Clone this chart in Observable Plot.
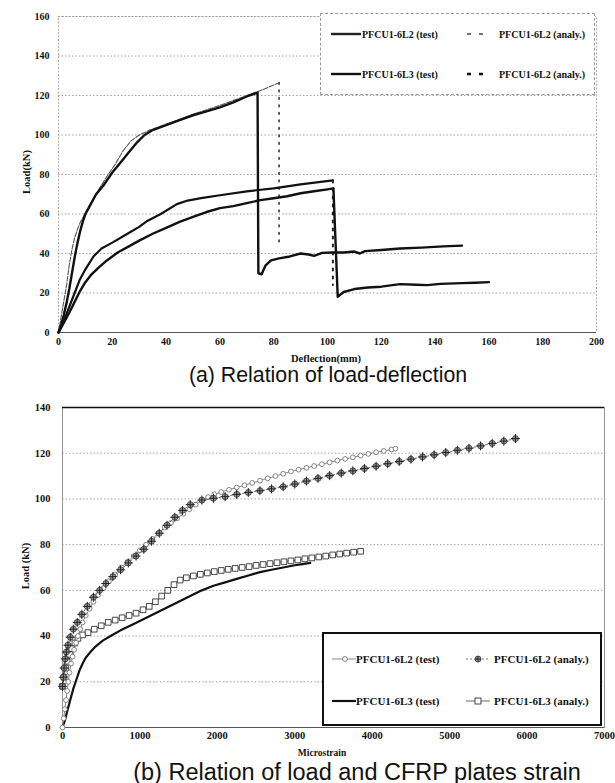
<!DOCTYPE html>
<html><head><meta charset="utf-8">
<script src="https://cdn.jsdelivr.net/npm/d3@7"></script>
<script src="https://cdn.jsdelivr.net/npm/@observablehq/plot@0.6"></script>
<style>
body{margin:0;background:#fff;}
#wrap{position:relative;width:615px;height:783px;overflow:hidden;background:#fff;}
.abs{position:absolute;}
.lab{font-family:"Liberation Serif",serif;font-weight:bold;color:#111;white-space:nowrap;transform:translate(-50%,-50%);}
.rot{transform:translate(-50%,-50%) rotate(-90deg);}
.cap{font-family:"Liberation Sans",Arial,sans-serif;color:#111;white-space:nowrap;transform:translate(-50%,-50%);}
.leg{position:absolute;box-sizing:border-box;background:#fff;}
.lt{position:absolute;font-family:"Liberation Serif",serif;font-weight:bold;white-space:nowrap;color:#111;transform:translateY(-50%);}
.ls{position:absolute;overflow:visible;}
</style></head>
<body>
<div id="wrap">
  <div id="pa" class="abs" style="left:0;top:0"></div>
  <div class="abs lab" style="left:326px;top:358px;font-size:10.5px">Deflection(mm)</div>
  <div class="abs lab rot" style="left:26px;top:172px;font-size:10.5px">Load(kN)</div>
  <div class="abs cap" style="left:328px;top:375px;font-size:21.3px">(a) Relation of load-deflection</div>

  <div class="leg" style="left:320px;top:13px;width:275px;height:82px;border:1px dashed #999;">
    <svg class="ls" style="left:10px;top:15px" width="30" height="10"><line x1="0" y1="5" x2="30" y2="5" stroke="#222" stroke-width="2.4"/></svg>
    <div class="lt" style="left:41px;top:20px;font-size:10px">PFCU1-6L2 (test)</div>
    <svg class="ls" style="left:146px;top:15px" width="18" height="10"><line x1="0" y1="5" x2="18" y2="5" stroke="#444" stroke-width="1.4" stroke-dasharray="4,8"/></svg>
    <div class="lt" style="left:178px;top:20px;font-size:10px">PFCU1-6L2 (analy.)</div>
    <svg class="ls" style="left:10px;top:55px" width="30" height="10"><line x1="0" y1="5" x2="30" y2="5" stroke="#111" stroke-width="2.4"/></svg>
    <div class="lt" style="left:41px;top:60px;font-size:10px">PFCU1-6L3 (test)</div>
    <svg class="ls" style="left:146px;top:55px" width="18" height="10"><line x1="0" y1="5" x2="18" y2="5" stroke="#111" stroke-width="2.4" stroke-dasharray="4,8"/></svg>
    <div class="lt" style="left:178px;top:60px;font-size:10px">PFCU1-6L2 (analy.)</div>
  </div>

  <div id="pb" class="abs" style="left:0;top:395px"></div>
  <div class="abs lab" style="left:322px;top:753px;font-size:9.5px">Microstrain</div>
  <div class="abs lab rot" style="left:25px;top:566px;font-size:10.5px">Load (kN)</div>
  <div class="abs cap" style="left:357px;top:772px;font-size:23.5px">(b) Relation of load and CFRP plates strain</div>

  <div class="leg" style="left:322px;top:632px;width:280px;height:94px;border:2px solid #111;">
    <svg class="ls" style="left:8px;top:20px" width="24" height="10"><line x1="0" y1="5" x2="24" y2="5" stroke="#888" stroke-width="1"/><circle cx="13" cy="5" r="2.4" fill="#fff" stroke="#777" stroke-width="0.9"/></svg>
    <div class="lt" style="left:32px;top:25px;font-size:11px">PFCU1-6L2 (test)</div>
    <svg class="ls" style="left:142px;top:20px" width="24" height="10"><line x1="0" y1="5" x2="24" y2="5" stroke="#666" stroke-width="0.9" stroke-dasharray="2,2"/><circle cx="12" cy="5" r="3" fill="#999" stroke="#333" stroke-width="0.8"/><path d="M9,5H15M12,2V8" stroke="#222" stroke-width="1"/></svg>
    <div class="lt" style="left:170px;top:25px;font-size:11px">PFCU1-6L2 (analy.)</div>
    <svg class="ls" style="left:8px;top:62px" width="24" height="10"><line x1="0" y1="5" x2="24" y2="5" stroke="#111" stroke-width="2.2"/></svg>
    <div class="lt" style="left:32px;top:67px;font-size:11px">PFCU1-6L3 (test)</div>
    <svg class="ls" style="left:142px;top:62px" width="24" height="10"><line x1="0" y1="5" x2="24" y2="5" stroke="#555" stroke-width="0.9"/><rect x="9" y="2" width="6" height="6" fill="#fff" stroke="#333" stroke-width="0.9"/></svg>
    <div class="lt" style="left:170px;top:67px;font-size:11px">PFCU1-6L3 (analy.)</div>
  </div>
</div>
<script>
// ===== (a) Load–deflection : [deflection (mm), load (kN)] =====
const a_L2_test = [[0,0],[1,4],[2,9],[3,15],[4,22],[5,30],[6,38],[7,45],[8,51],[9,56],[10,60],[12,65],[14,70],[17,75],[20,81],[23,86],[26,91],[29,96],[32,100],[35,102.5],[40,105],[45,107.5],[50,110],[55,112],[60,114],[65,116.5],[70,119.5],[74,121.5],[74.3,30],[75.5,29.5],[77,34],[79,36.5],[82,37.5],[86,38.5],[90,40],[93,39.5],[95,38.8],[98,40.3],[102,40.5],[106,40.5],[110,41],[112,40],[114,41.2],[120,41.8],[127,42.5],[135,43],[143,43.6],[150,44]];
const a_L2_analy = [[0,0],[1,8],[2,16],[3,24],[4,34],[5,42],[6,48],[7,52],[8,55.5],[10,60.5],[12,65.5],[15,72.5],[18,79],[21,85],[24,92],[27,97],[30,100],[34,102.5],[40,105.5],[50,110.5],[60,115],[70,120],[76,123],[82,126.5],[82,43]];
const a_L3_test = [[0,0],[1,2.5],[2,5],[4,10],[6,15.5],[8,21],[10,25.5],[12,29],[15,33],[18,36.5],[22,40.5],[26,43.5],[30,46.5],[35,50],[40,53],[45,56],[50,58.5],[55,61],[60,63],[65,64],[70,65.5],[75,67],[80,68],[85,69],[90,70.5],[95,71.5],[100,72.5],[102.2,73],[103.8,18],[106,20.5],[110,22],[115,22.8],[120,23.2],[127,24.5],[133,24.2],[137,24],[142,24.6],[150,25],[155,25.2],[160,25.5]];
const a_L3_analy = [[0,0],[2,6],[4,13],[6,20],[8,27],[10,32],[13,38.5],[16,42.5],[20,45.5],[25,49.5],[30,53.5],[33,56.5],[38,60],[44,65],[48,66.8],[53,68],[60,69.5],[70,71.5],[80,73],[90,75],[96,76],[102,77],[102,24]];
const a_xTicks = [0,20,40,60,80,100,120,140,160,180,200];
const a_yTicks = [0,20,40,60,80,100,120,140,160];

// ===== (b) Load–CFRP strain : [microstrain, load (kN)] =====
const b_L2_test = [[0,0],[15,4],[30,8],[45,12],[60,16],[75,20],[90,24],[110,28],[130,31],[150,34],[175,37],[200,40],[230,43],[260,46],[300,49],[350,52],[400,55],[460,58],[530,61],[600,64],[680,67],[760,70],[840,72.5],[920,75],[1000,77.5],[1080,80],[1160,82.5],[1240,85],[1320,87.5],[1400,89.5],[1480,91.5],[1560,93.5],[1640,95.5],[1720,97.5],[1800,99.3],[1880,100.8],[1960,102],[2050,103],[2150,104],[2250,105],[2350,106],[2450,107],[2550,108],[2650,109],[2750,110],[2850,111],[2950,112],[3050,112.8],[3150,113.6],[3250,114.4],[3350,115.2],[3450,116],[3550,116.8],[3650,117.5],[3750,118.2],[3850,119],[3950,119.7],[4050,120.4],[4150,121],[4250,121.6],[4300,122]];
const b_L2_analy = [[0,18],[10,22],[20,26],[35,30],[50,33],[70,36],[100,39.5],[140,43],[190,46],[250,49.5],[320,53],[400,57],[480,60],[560,63],[650,66],[750,69],[850,72],[950,75],[1050,78],[1150,81.5],[1250,85],[1350,88.5],[1450,92],[1550,95],[1650,97.5],[1800,99.5],[1950,100.3],[2100,101],[2250,102],[2400,102.8],[2550,103.6],[2700,104.4],[2850,105.3],[3000,106.5],[3150,107.8],[3300,109],[3450,110.2],[3600,111.3],[3750,112.3],[3900,113.3],[4050,114.3],[4200,115.4],[4350,116.4],[4500,117.4],[4650,118.4],[4800,119.3],[4950,120.3],[5100,121.3],[5250,122.2],[5400,123.2],[5550,124.3],[5700,125.3],[5850,126.4]];
const b_L3_test = [[0,0],[30,3],[60,7],[100,12],[140,17],[180,21],[220,25],[260,28],[300,30.5],[360,33],[430,35.5],[520,38],[620,40],[750,42.5],[900,45],[1050,47.5],[1200,50],[1350,52.5],[1500,55],[1650,57.5],[1800,60],[1950,62],[2100,63.5],[2250,65],[2400,66.5],[2550,68],[2700,69],[2850,70],[3000,71],[3100,71.5],[3200,72]];
const b_L3_analy = [[0,18],[20,22],[40,26],[60,29],[90,32],[120,34.5],[160,37],[200,39],[260,40.5],[330,41.5],[410,43],[500,44.5],[590,46],[680,47],[770,48],[860,49],[950,50],[1040,51.5],[1120,53],[1200,55],[1280,57.5],[1360,60],[1440,62.5],[1520,64.5],[1600,65.5],[1690,66.3],[1780,67],[1870,67.6],[1960,68.2],[2050,68.7],[2140,69.2],[2230,69.6],[2320,70],[2410,70.4],[2500,70.9],[2590,71.3],[2680,71.7],[2770,72.1],[2860,72.5],[2950,72.9],[3040,73.3],[3130,73.8],[3220,74.2],[3310,74.6],[3400,75],[3490,75.5],[3580,75.9],[3670,76.3],[3760,76.7],[3850,77.1]];
const b_xTicks = [0,1000,2000,3000,4000,5000,6000,7000];
const b_yTicks = [0,20,40,60,80,100,120,140];

const P = arr => arr.map(([x, y]) => ({x, y}));
const fmt = d => String(d);
const serif = "'Liberation Serif', 'Times New Roman', serif";

// ---- chart (a)
const aL2a = P(a_L2_analy), aL3a = P(a_L3_analy);
const chartA = Plot.plot({
  width: 615, height: 365,
  marginLeft: 58, marginRight: 19, marginTop: 16, marginBottom: 33,
  x: {domain: [0, 200]},
  y: {domain: [0, 160]},
  style: {fontFamily: serif, fontSize: "10px", fontWeight: "bold", color: "#111", background: "transparent"},
  marks: [
    Plot.gridY(a_yTicks, {stroke: "#8a8a8a", strokeOpacity: 1, strokeWidth: 0.8, strokeDasharray: "1.5,2"}),
    Plot.frame({stroke: "#999", strokeWidth: 0.8, strokeDasharray: "2,1.5"}),
    Plot.ruleY([0], {stroke: "#555", strokeWidth: 1}),
    Plot.axisX(a_xTicks, {tickSize: 0, tickPadding: 5, tickFormat: fmt, label: null}),
    Plot.axisY(a_yTicks, {tickSize: 0, tickPadding: 9, tickFormat: fmt, label: null}),
    Plot.line(aL2a.slice(0, -1), {x: "x", y: "y", stroke: "#555", strokeWidth: 1.1, strokeDasharray: "5,1.5"}),
    Plot.line(aL2a.slice(-2), {x: "x", y: "y", stroke: "#333", strokeWidth: 1.6, strokeDasharray: "1.5,6"}),
    Plot.line(aL3a.slice(0, -1), {x: "x", y: "y", stroke: "#111", strokeWidth: 2.2}),
    Plot.line(aL3a.slice(-2), {x: "x", y: "y", stroke: "#222", strokeWidth: 2, strokeDasharray: "2,6"}),
    Plot.line(P(a_L2_test), {x: "x", y: "y", stroke: "#111", strokeWidth: 2.4}),
    Plot.line(P(a_L3_test), {x: "x", y: "y", stroke: "#111", strokeWidth: 2.4})
  ]
});
document.getElementById("pa").appendChild(chartA);

// ---- chart (b)
const chartB = Plot.plot({
  width: 615, height: 350,
  marginLeft: 62, marginRight: 11, marginTop: 12, marginBottom: 18,
  x: {domain: [0, 7000]},
  y: {domain: [0, 140]},
  style: {fontFamily: serif, fontSize: "10.5px", fontWeight: "bold", color: "#111", background: "transparent"},
  marks: [
    Plot.gridY(b_yTicks, {stroke: "#8a8a8a", strokeOpacity: 1, strokeWidth: 0.8, strokeDasharray: "1.5,2"}),
    Plot.frame({stroke: "#888", strokeWidth: 0.9}),
    Plot.ruleY([140], {stroke: "#111", strokeWidth: 1.4}),
    Plot.ruleY([0], {stroke: "#555", strokeWidth: 1}),
    Plot.axisX(b_xTicks, {tickSize: 0, tickPadding: 4, tickFormat: fmt, label: null}),
    Plot.axisY(b_yTicks, {tickSize: 0, tickPadding: 12, tickFormat: fmt, label: null}),
    Plot.line(P(b_L3_analy), {x: "x", y: "y", stroke: "#555", strokeWidth: 0.9}),
    Plot.dot(P(b_L3_analy), {x: "x", y: "y", symbol: "square", r: 3.2, fill: "#fff", stroke: "#333", strokeWidth: 0.9}),
    Plot.line(P(b_L3_test), {x: "x", y: "y", stroke: "#111", strokeWidth: 2.2}),
    Plot.line(P(b_L2_test), {x: "x", y: "y", stroke: "#888", strokeWidth: 1}),
    Plot.dot(P(b_L2_test), {x: "x", y: "y", r: 2.4, fill: "#fff", stroke: "#777", strokeWidth: 0.9}),
    Plot.line(P(b_L2_analy), {x: "x", y: "y", stroke: "#666", strokeWidth: 0.9, strokeDasharray: "2,2"}),
    Plot.dot(P(b_L2_analy), {x: "x", y: "y", r: 3, fill: "#999", stroke: "#333", strokeWidth: 0.8}),
    Plot.dot(P(b_L2_analy), {x: "x", y: "y", symbol: "plus", r: 3, stroke: "#222", strokeWidth: 1})
  ]
});
document.getElementById("pb").appendChild(chartB);
</script>
</body></html>
